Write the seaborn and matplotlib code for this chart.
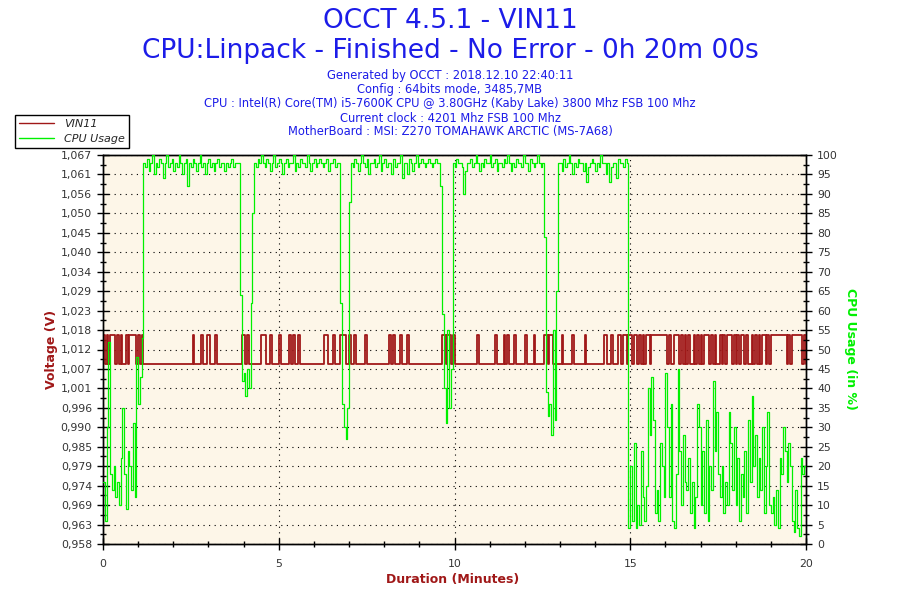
import numpy as np
import pandas as pd
import matplotlib
matplotlib.use("Agg")
import matplotlib.pyplot as plt
from matplotlib.lines import Line2D
from matplotlib.ticker import MultipleLocator, FixedLocator
import seaborn as sns

# ---------------- data ----------------
SAMPLE_SECONDS = 3  # one value every 3 s, 0 .. 1200 s

CPU_USAGE = [
    16, 6, 30, 52, 18, 14, 20, 12, 16, 10, 22, 35, 18, 9, 24, 20, 14, 31, 12, 48,
    36, 43, 53, 98, 97, 99, 96, 98, 100, 95, 98, 97, 99, 98, 94, 98, 100, 97, 98, 99,
    96, 98, 97, 100, 98, 95, 98, 99, 92, 98, 97, 99, 98, 96, 98, 100, 97, 98, 95, 98,
    99, 97, 98, 96, 98, 99, 97, 98, 98, 96, 98, 97, 98, 99, 97, 98, 98, 98, 64, 42,
    44, 38, 45, 40, 62, 85, 98, 97, 99, 98, 100, 98, 97, 99, 98, 96, 98, 100, 97, 98,
    99, 98, 95, 98, 99, 97, 98, 98, 100, 96, 98, 97, 99, 98, 98, 97, 100, 98, 96, 98,
    99, 97, 98, 99, 98, 97, 98, 99, 96, 98, 98, 99, 97, 98, 98, 62, 36, 30, 27, 35,
    88, 98, 97, 99, 98, 96, 98, 100, 98, 97, 99, 95, 98, 98, 99, 97, 98, 100, 96, 98,
    99, 97, 98, 98, 95, 99, 97, 98, 98, 100, 94, 98, 98, 95, 99, 98, 96, 98, 100, 97,
    98, 99, 98, 97, 98, 99, 98, 97, 98, 99, 98, 98, 92, 59, 40, 31, 55, 35, 45, 98,
    97, 99, 98, 98, 97, 90, 96, 98, 98, 99, 97, 98, 100, 98, 96, 98, 97, 99, 98, 98,
    100, 97, 98, 99, 96, 98, 98, 97, 99, 98, 100, 98, 96, 98, 97, 99, 98, 98, 97, 100,
    98, 98, 96, 99, 98, 97, 98, 100, 98, 97, 98, 79, 39, 33, 36, 28, 55, 32, 65, 98,
    98, 96, 99, 97, 98, 100, 98, 95, 98, 97, 99, 98, 98, 96, 98, 93, 97, 98, 99, 98,
    96, 98, 97, 100, 98, 98, 95, 98, 93, 97, 98, 98, 94, 99, 98, 98, 97, 99, 98, 4,
    20, 6, 26, 4, 10, 5, 24, 12, 6, 15, 40, 28, 43, 32, 8, 14, 6, 26, 20, 12,
    44, 30, 12, 36, 6, 4, 18, 45, 24, 10, 28, 16, 14, 22, 8, 16, 4, 12, 36, 30,
    10, 24, 8, 32, 6, 20, 14, 42, 24, 34, 18, 12, 20, 8, 16, 10, 34, 26, 14, 30,
    10, 22, 6, 18, 12, 24, 8, 32, 16, 38, 20, 28, 12, 22, 14, 30, 8, 20, 34, 10,
    8, 12, 5, 14, 4, 22, 18, 30, 24, 16, 26, 20, 6, 3, 14, 4, 2, 22, 18, 20,
    20,
]

# VIN11 state per sample: 0 = low reading, 1 = high reading
VIN11_STATE = (
    "1010111010 1001011110 1010000000 0000000000"
    "0000000000 0100001001 1000100000 0000000001"
    "1010000000 1110010000 1000001010 0100000000"
    "0000001100 0100011100 1001000001 0000000000"
    "0001010001 0001000000 0000000000 0001101101"
    "0000000000 0001000000 0001000010 1000100000"
    "1000010000 0110110000 0100000100 0000100000"
    "0000011001 0001101101 1011010101 1011111111"
    "1010011101 0101001010 1011101010 0101011101"
    "0101101001 0101011010 1111111110 1011111101"
    "0"
)
VIN11_LEVELS = [1.0084, 1.0166]

VOLT_MIN, VOLT_MAX = 0.958, 1.067
VOLT_TICK_LABELS = ["0,958", "0,963", "0,969", "0,974", "0,979", "0,985", "0,990",
                    "0,996", "1,001", "1,007", "1,012", "1,018", "1,023", "1,029",
                    "1,034", "1,040", "1,045", "1,050", "1,056", "1,061", "1,067"]
CPU_TICKS = list(range(0, 101, 5))
X_TICKS = [0, 5, 10, 15, 20]

TITLE_LINES = ["OCCT 4.5.1 - VIN11",
               "CPU:Linpack - Finished - No Error - 0h 20m 00s"]
INFO_LINES = ["Generated by OCCT : 2018.12.10 22:40:11",
              "Config : 64bits mode, 3485,7MB",
              "CPU : Intel(R) Core(TM) i5-7600K CPU @ 3.80GHz (Kaby Lake) 3800 Mhz FSB 100 Mhz",
              "Current clock : 4201 Mhz FSB 100 Mhz",
              "MotherBoard : MSI: Z270 TOMAHAWK ARCTIC (MS-7A68)"]

# ---------------- build frame ----------------
n = len(CPU_USAGE)
state = VIN11_STATE.replace(" ", "")
state = (state + state[-1] * n)[:n]
minutes = np.arange(n) * SAMPLE_SECONDS / 60.0
df = pd.DataFrame({
    "minutes": minutes,
    "cpu": CPU_USAGE,
    "vin": [VIN11_LEVELS[int(c)] for c in state],
})

# ---------------- style ----------------
sns.set_theme(style="white")
plt.rcParams["font.family"] = ["DejaVu Sans"]

RED = "#A01818"
GREEN = "#00F000"
BLUE = "#1C1CE8"
BG = "#FDF6E8"

fig = plt.figure(figsize=(9, 6), dpi=100)
fig.patch.set_facecolor("white")
ax = fig.add_axes([103 / 900, 56 / 600, 703 / 900, 389 / 600])
ax.set_facecolor(BG)
ax2 = ax.twinx()

sns.lineplot(data=df, x="minutes", y="vin", ax=ax, color=RED, lw=1.3,
             drawstyle="steps-post", legend=False, errorbar=None, zorder=3)
sns.lineplot(data=df, x="minutes", y="cpu", ax=ax2, color=GREEN, lw=0.9,
             drawstyle="steps-post", legend=False, errorbar=None, zorder=4)

ax.set_xlim(0, 20)
ax.set_ylim(VOLT_MIN, VOLT_MAX)
ax2.set_ylim(0, 100)

vt = np.linspace(VOLT_MIN, VOLT_MAX, len(VOLT_TICK_LABELS))
ax.set_yticks(vt)
ax.set_yticklabels(VOLT_TICK_LABELS)
step = vt[1] - vt[0]
ax.yaxis.set_minor_locator(FixedLocator(vt[:-1] + step / 2))
ax.set_xticks(X_TICKS)
ax.set_xticklabels([str(v) for v in X_TICKS])
ax.xaxis.set_minor_locator(MultipleLocator(1))
ax2.set_yticks(CPU_TICKS)
ax2.set_yticklabels([str(v) for v in CPU_TICKS])
ax2.yaxis.set_minor_locator(MultipleLocator(2.5))

for a in (ax, ax2):
    a.tick_params(which="major", direction="inout", length=9, width=1,
                  color="black", labelsize=7.8, labelcolor="#333333")
    a.tick_params(which="minor", direction="inout", length=5, width=1,
                  color="black")
    for s in a.spines.values():
        s.set_color("black")
        s.set_linewidth(1)
ax.tick_params(axis="y", which="both", left=True, right=False)
ax.tick_params(axis="x", which="both", bottom=True, pad=6)
ax2.tick_params(axis="y", which="both", right=True, left=False)

ax.grid(True, which="major", color="black", linestyle=(0, (1, 4)), linewidth=0.8)
ax.set_xlabel("")
ax.set_ylabel("")
ax2.set_ylabel("")
ax.set_axisbelow(True)

# axis titles
fig.text(51 / 900, 1 - 349 / 600, "Voltage (V)", rotation=90, color=RED,
         fontweight="bold", fontsize=9, ha="center", va="center")
fig.text(850 / 900, 1 - 349 / 600, "CPU Usage (in %)", rotation=270, color=GREEN,
         fontweight="bold", fontsize=9, ha="center", va="center")
fig.text(453 / 900, 1 - 579 / 600, "Duration (Minutes)", color=RED,
         fontweight="bold", fontsize=9, ha="center", va="center")

# titles
fig.text(450 / 900, 1 - 21 / 600, TITLE_LINES[0], color=BLUE, fontsize=19,
         ha="center", va="center")
fig.text(450 / 900, 1 - 51 / 600, TITLE_LINES[1], color=BLUE, fontsize=19,
         ha="center", va="center")
for i, line in enumerate(INFO_LINES):
    fig.text(450 / 900, 1 - (76 + 14 * i) / 600, line, color=BLUE, fontsize=8.3,
             ha="center", va="center")

# legend
handles = [Line2D([], [], color=RED, lw=1), Line2D([], [], color=GREEN, lw=1)]
leg = fig.legend(handles, ["VIN11", "CPU Usage"], loc="upper left",
                 bbox_to_anchor=(15 / 900, 1 - 115 / 600), frameon=True,
                 fancybox=False, edgecolor="black", framealpha=1,
                 prop={"style": "italic", "size": 8}, borderaxespad=0,
                 handlelength=3.2, handletextpad=0.9, borderpad=0.35,
                 labelspacing=0.45)
leg.get_frame().set_linewidth(1)

fig.savefig("out.png", dpi=100)
